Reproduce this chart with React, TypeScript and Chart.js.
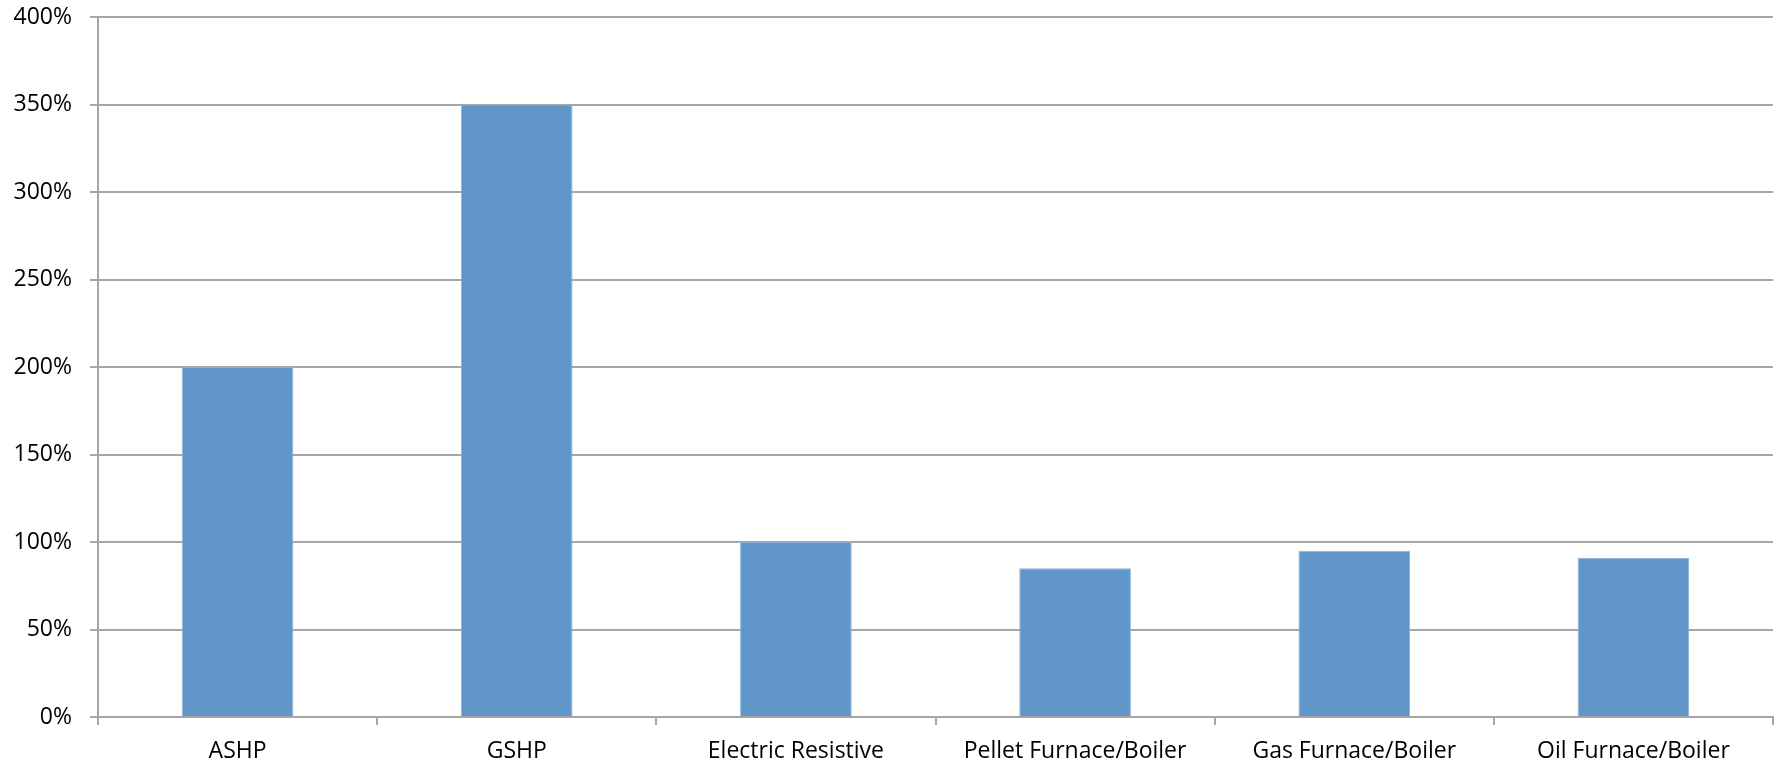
import React, { useEffect, useRef } from "react";
import { Chart, registerables } from "chart.js";

Chart.register(...registerables);

const categories = [
  "ASHP",
  "GSHP",
  "Electric Resistive",
  "Pellet Furnace/Boiler",
  "Gas Furnace/Boiler",
  "Oil Furnace/Boiler",
];
const efficiency = [200, 350, 100, 85, 95, 91];
const yMin = 0;
const yMax = 400;
const yStep = 50;

export default function App() {
  const ref = useRef<HTMLCanvasElement | null>(null);

  useEffect(() => {
    document.body.style.margin = "0";
    const canvas = ref.current;
    if (!canvas) return;
    const font = { family: "'Open Sans', sans-serif", size: 23 };
    const gridColor = "#A6A6A6";
    const chart = new Chart(canvas, {
      type: "bar",
      data: {
        labels: categories,
        datasets: [
          {
            data: efficiency,
            backgroundColor: "#6196C9",
            borderColor: "#8DB2D8",
            borderWidth: 1,
            categoryPercentage: 1,
            barPercentage: 0.4,
          },
        ],
      },
      options: {
        animation: false,
        responsive: false,
        maintainAspectRatio: false,
        layout: { padding: { top: 17, right: 6, left: 0, bottom: 0 } },
        plugins: {
          legend: { display: false },
          tooltip: { enabled: false },
        },
        scales: {
          x: {
            grid: {
              offset: true,
              drawOnChartArea: false,
              drawTicks: true,
              tickLength: 8,
              color: gridColor,
              lineWidth: 2,
            },
            border: { color: gridColor, width: 2 },
            ticks: { font, color: "#000", padding: 13, maxRotation: 0 },
            afterFit: (s: any) => {
              s.height = 48;
            },
          },
          y: {
            min: yMin,
            max: yMax,
            grid: {
              color: gridColor,
              lineWidth: 2,
              drawTicks: true,
              tickLength: 8,
            },
            border: { color: gridColor, width: 2 },
            ticks: {
              stepSize: yStep,
              font,
              color: "#000",
              padding: 18,
              callback: (v: any) => `${v}%`,
            },
            afterFit: (s: any) => {
              s.width = 98;
              s.paddingTop = 0;
              s.paddingBottom = 0;
            },
          },
        },
      },
    });
    return () => chart.destroy();
  }, []);

  return (
    <div style={{ width: 1779, height: 765 }}>
      <canvas ref={ref} width={1779} height={765} style={{ display: "block" }} />
    </div>
  );
}
